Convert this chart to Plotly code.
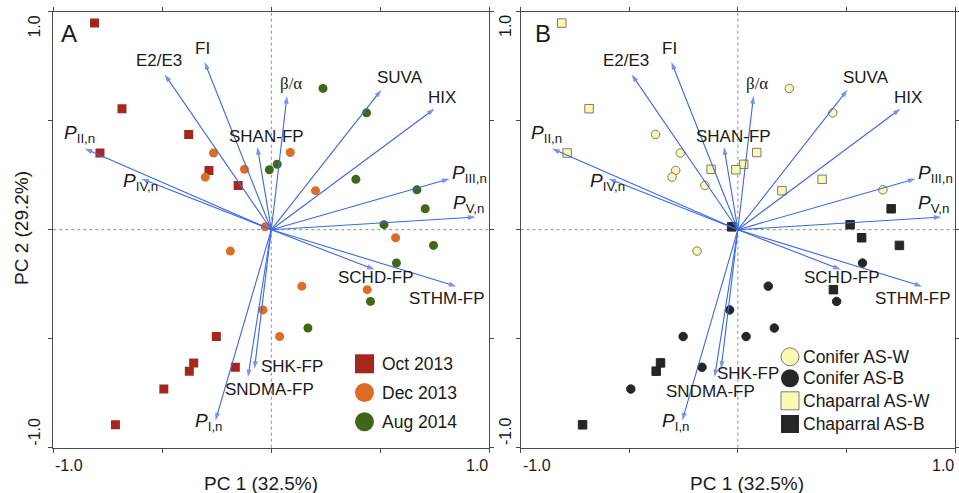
import plotly.graph_objects as go

W, H = 959, 493

# ---------------- data ----------------
# sample scores (PC1, PC2)
pc1 = [-0.811, -0.685, -0.379, -0.786, -0.286, -0.152, -0.252, -0.356, -0.376, -0.165, -0.493, -0.715,
       -0.265, -0.123, -0.303, 0.087, 0.203, -0.028, 0.570, -0.188, 0.140, 0.440, -0.038, 0.038,
       0.237, 0.437, 0.027, -0.009, 0.388, 0.668, 0.706, 0.517, 0.744, 0.574, 0.455, 0.168]
pc2 = [0.948, 0.555, 0.437, 0.352, 0.272, 0.203, -0.490, -0.611, -0.649, -0.631, -0.731, -0.895,
       0.352, 0.277, 0.241, 0.354, 0.179, 0.013, -0.037, -0.098, -0.259, -0.275, -0.368, -0.490,
       0.648, 0.536, 0.300, 0.275, 0.231, 0.183, 0.096, 0.023, -0.072, -0.153, -0.329, -0.451]
month = ["Oct 2013"] * 12 + ["Dec 2013"] * 12 + ["Aug 2014"] * 12
site = ["Chaparral AS-W", "Chaparral AS-W", "Conifer AS-W", "Chaparral AS-W", "Conifer AS-W", "Conifer AS-W",
        "Conifer AS-B", "Chaparral AS-B", "Chaparral AS-B", "Conifer AS-B", "Conifer AS-B", "Chaparral AS-B",
        "Conifer AS-W", "Chaparral AS-W", "Conifer AS-W", "Chaparral AS-W", "Chaparral AS-W", "Chaparral AS-B",
        "Chaparral AS-B", "Conifer AS-W", "Conifer AS-B", "Chaparral AS-B", "Conifer AS-B", "Conifer AS-B",
        "Conifer AS-W", "Conifer AS-W", "Chaparral AS-W", "Chaparral AS-W", "Chaparral AS-W", "Conifer AS-W",
        "Chaparral AS-B", "Chaparral AS-B", "Chaparral AS-B", "Conifer AS-B", "Conifer AS-B", "Conifer AS-B"]

# variable loadings
var_keys = ["E2/E3", "FI", "beta", "SUVA", "HIX", "SHAN-FP", "PII", "PIV", "PIII", "PV",
            "SCHD-FP", "STHM-FP", "SHK-FP", "SNDMA-FP", "PI"]
var_text = ["E2/E3", "FI", "β/α", "SUVA", "HIX", "SHAN-FP",
            "<i>P</i><sub>II,n</sub>", "<i>P</i><sub>IV,n</sub>", "<i>P</i><sub>III,n</sub>",
            "<i>P</i><sub>V,n</sub>", "SCHD-FP", "STHM-FP", "SHK-FP", "SNDMA-FP", "<i>P</i><sub>I,n</sub>"]
load1 = [-0.489, -0.306, 0.072, 0.505, 0.749, -0.064, -0.856, -0.596, 0.818, 0.937,
         0.474, 0.849, -0.077, -0.107, -0.256]
load2 = [0.712, 0.769, 0.613, 0.642, 0.555, 0.379, 0.372, 0.234, 0.234, 0.058,
         -0.183, -0.260, -0.638, -0.676, -0.875]

months = ["Oct 2013", "Dec 2013", "Aug 2014"]
sites = ["Conifer AS-W", "Conifer AS-B", "Chaparral AS-W", "Chaparral AS-B"]

# ---------------- styles / layout ----------------
FONT = "Liberation Sans, Arial, sans-serif"
TXT = "#1a1a1a"
AXC = "#4a4a4a"
ARROW = "#3a68e8"

month_style = {
    "Oct 2013": dict(symbol="square", color="#a5261d"),
    "Dec 2013": dict(symbol="circle", color="#dc6c26"),
    "Aug 2014": dict(symbol="circle", color="#40661a"),
}
site_style = {
    "Conifer AS-W": dict(symbol="circle", color="#fbf8b3", line="#7a7a7a"),
    "Conifer AS-B": dict(symbol="circle", color="#262626", line="#262626"),
    "Chaparral AS-W": dict(symbol="square", color="#fbf8b3", line="#7a7a7a"),
    "Chaparral AS-B": dict(symbol="square", color="#262626", line="#262626"),
}

# label centres (data units) per panel
label_pos_A = {
    "E2/E3": (-0.517, 0.777), "FI": (-0.317, 0.831), "beta": (0.090, 0.671),
    "SUVA": (0.590, 0.696), "HIX": (0.785, 0.607), "SHAN-FP": (-0.022, 0.428),
    "PII": (-0.880, 0.441), "PIV": (-0.598, 0.217), "PIII": (0.909, 0.254),
    "PV": (0.903, 0.118), "SCHD-FP": (0.480, -0.217), "STHM-FP": (0.808, -0.315),
    "SHK-FP": (0.095, -0.627), "SNDMA-FP": (-0.006, -0.735), "PI": (-0.286, -0.883),
}
label_pos_B = dict(label_pos_A)
label_pos_B["SHK-FP"] = (0.047, -0.660)
label_pos_B["SNDMA-FP"] = (-0.126, -0.743)


def px_x(p):
    return p / W


def px_y(p):
    return 1 - p / H


dom_A = [px_x(53.3), px_x(489.3)]
dom_B = [px_x(520.7), px_x(955.0)]
dom_y = [px_y(447.7), px_y(11.7)]

fig = go.Figure()

# panel A points
for m in months:
    xs = [pc1[i] for i in range(len(pc1)) if month[i] == m]
    ys = [pc2[i] for i in range(len(pc2)) if month[i] == m]
    st = month_style[m]
    fig.add_trace(go.Scatter(x=xs, y=ys, mode="markers", xaxis="x", yaxis="y",
                             marker=dict(symbol=st["symbol"], size=9, color=st["color"],
                                         line=dict(width=0)),
                             showlegend=False, name=m, hoverinfo="skip"))

# panel B points
for s in sites:
    xs = [pc1[i] for i in range(len(pc1)) if site[i] == s]
    ys = [pc2[i] for i in range(len(pc2)) if site[i] == s]
    st = site_style[s]
    fig.add_trace(go.Scatter(x=xs, y=ys, mode="markers", xaxis="x2", yaxis="y2",
                             marker=dict(symbol=st["symbol"], size=8.5, color=st["color"],
                                         line=dict(width=1, color=st["line"])),
                             showlegend=False, name=s, hoverinfo="skip"))

annotations = []
shapes = []

for xr, yr, lpos in (("x", "y", label_pos_A), ("x2", "y2", label_pos_B)):
    # zero lines
    shapes.append(dict(type="line", xref=xr, yref=yr + " domain", x0=0, x1=0, y0=0, y1=1,
                       line=dict(color="#8c8c8c", width=1, dash="dot"), layer="below"))
    shapes.append(dict(type="line", xref=xr + " domain", yref=yr, x0=0, x1=1, y0=0, y1=0,
                       line=dict(color="#8c8c8c", width=1, dash="dot"), layer="below"))
    # loading arrows + labels
    for k, t, a, b in zip(var_keys, var_text, load1, load2):
        fig.add_trace(go.Scatter(x=[0, a], y=[0, b], mode="lines+markers", xaxis=xr, yaxis=yr,
                                 line=dict(color=ARROW, width=1.1),
                                 marker=dict(symbol=["circle", "arrow"], size=[0, 8],
                                             angleref="previous", color=ARROW,
                                             line=dict(width=0)),
                                 showlegend=False, hoverinfo="skip"))
        lx, ly = lpos[k]
        is_p = t.startswith("<i>")
        fam = "Liberation Serif, Times New Roman, serif" if k == "beta" else FONT
        size = 19 if is_p else 17
        annotations.append(dict(x=lx, y=ly, xref=xr, yref=yr, text=t, showarrow=False,
                                xanchor="center", yanchor="middle",
                                font=dict(family=fam, size=size, color=TXT)))
    # tick labels
    annotations.append(dict(x=-1, y=0, xref=xr, yref=yr + " domain", text="-1.0", showarrow=False,
                            xanchor="left", yanchor="middle", yshift=-18, xshift=0,
                            font=dict(family=FONT, size=16, color=TXT)))
    annotations.append(dict(x=1, y=0, xref=xr, yref=yr + " domain", text="1.0", showarrow=False,
                            xanchor="right", yanchor="middle", yshift=-18, xshift=1,
                            font=dict(family=FONT, size=16, color=TXT)))
    yl_shift = -19 if xr == "x" else -15
    annotations.append(dict(x=0, y=0.933, xref=xr + " domain", yref=yr, text="1.0", showarrow=False,
                            textangle=-90, xanchor="center", yanchor="middle", xshift=yl_shift,
                            font=dict(family=FONT, size=16, color=TXT)))
    annotations.append(dict(x=0, y=-0.925, xref=xr + " domain", yref=yr, text="-1.0", showarrow=False,
                            textangle=-90, xanchor="center", yanchor="middle", xshift=yl_shift,
                            font=dict(family=FONT, size=16, color=TXT)))

# axis titles
annotations.append(dict(x=-0.049, y=px_y(483), xref="x", yref="paper", text="PC 1 (32.5%)",
                        showarrow=False, xanchor="center", yanchor="middle",
                        font=dict(family=FONT, size=19, color=TXT)))
annotations.append(dict(x=0.043, y=px_y(483), xref="x2", yref="paper", text="PC 1 (32.5%)",
                        showarrow=False, xanchor="center", yanchor="middle",
                        font=dict(family=FONT, size=19, color=TXT)))
annotations.append(dict(x=px_x(21), y=px_y(228), xref="paper", yref="paper", text="PC 2 (29.2%)",
                        showarrow=False, textangle=-90, xanchor="center", yanchor="middle",
                        font=dict(family=FONT, size=19, color=TXT)))

# panel letters
annotations.append(dict(x=px_x(69), y=px_y(33.5), xref="paper", yref="paper", text="A",
                        showarrow=False, xanchor="center", yanchor="middle",
                        font=dict(family=FONT, size=24, color=TXT)))
annotations.append(dict(x=px_x(542.5), y=px_y(33.5), xref="paper", yref="paper", text="B",
                        showarrow=False, xanchor="center", yanchor="middle",
                        font=dict(family=FONT, size=24, color=TXT)))


def legend_item(cx, cy, size, symbol, fill, line, label, tx):
    h = size / 2
    shapes.append(dict(type="rect" if symbol == "square" else "circle", xref="paper", yref="paper",
                       x0=px_x(cx - h), x1=px_x(cx + h), y0=px_y(cy + h), y1=px_y(cy - h),
                       fillcolor=fill, line=dict(color=line, width=1 if line != fill else 0)))
    annotations.append(dict(x=px_x(tx), y=px_y(cy), xref="paper", yref="paper", text=label,
                            showarrow=False, xanchor="left", yanchor="middle",
                            font=dict(family=FONT, size=17.5, color=TXT)))


# legend A
for m, cy in zip(months, [363.8, 392.5, 421.7]):
    st = month_style[m]
    legend_item(364.5, cy, 19, st["symbol"], st["color"], st["color"], m, 380)

# legend B
for s, cy in zip(sites, [356.8, 378.3, 400.8, 424.0]):
    st = site_style[s]
    legend_item(790, cy, 18, st["symbol"], st["color"], st["line"], s, 800.5)

axis_common = dict(range=[-1, 1], tickvals=[-1, -0.5, 0, 0.5, 1], ticks="outside", ticklen=4,
                   tickcolor=AXC, showticklabels=False, showline=True, linecolor=AXC, linewidth=1,
                   mirror="ticks", showgrid=False, zeroline=False, fixedrange=True)

fig.update_layout(
    width=W, height=H,
    margin=dict(l=0, r=0, t=0, b=0),
    paper_bgcolor="white", plot_bgcolor="white",
    xaxis=dict(domain=dom_A, anchor="y", **axis_common),
    yaxis=dict(domain=dom_y, anchor="x", **axis_common),
    xaxis2=dict(domain=dom_B, anchor="y2", **axis_common),
    yaxis2=dict(domain=dom_y, anchor="x2", **axis_common),
    annotations=annotations,
    shapes=shapes,
    showlegend=False,
)

fig.write_html("out.html", config={"displayModeBar": False},
               post_script="document.body.style.margin='0';")
